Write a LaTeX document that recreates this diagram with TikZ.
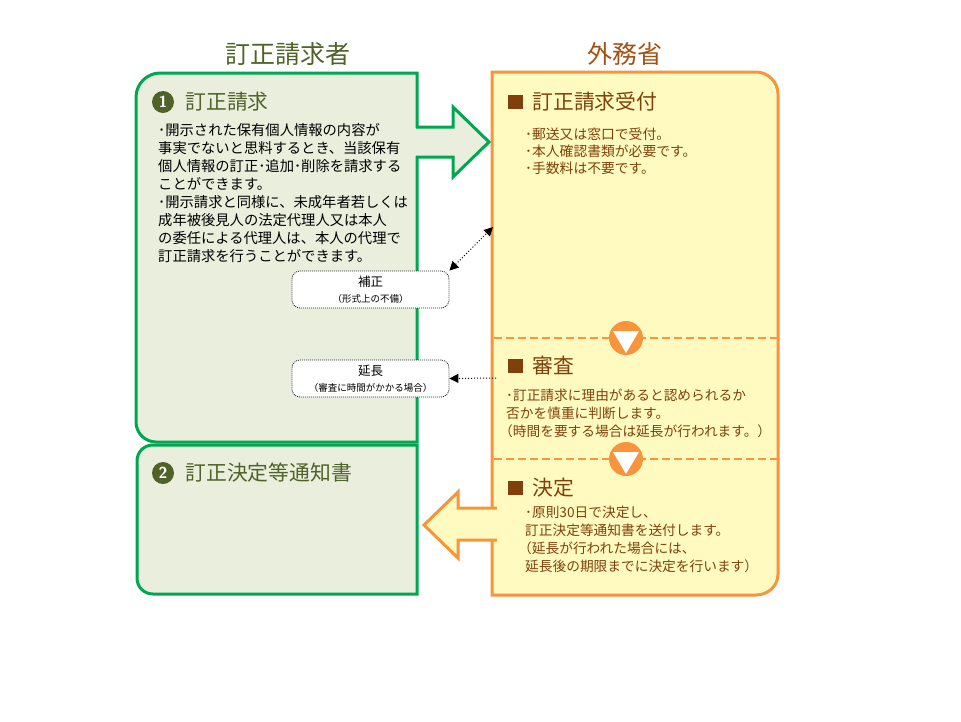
\documentclass[tikz,border=0pt]{standalone}
\usepackage{fontspec}
\setmainfont{Noto Sans CJK JP}
\usetikzlibrary{arrows.meta,positioning}

\definecolor{gline}{RGB}{0,166,81}
\definecolor{gfill}{RGB}{233,238,221}
\definecolor{gtext}{RGB}{79,98,40}
\definecolor{oline}{RGB}{247,148,60}
\definecolor{ofill}{RGB}{255,251,192}
\definecolor{otext}{RGB}{128,64,12}
\definecolor{otitle}{RGB}{160,82,20}

\begin{document}
\begin{tikzpicture}[x=1pt,y=-1pt,
    titletext/.style={font=\fontsize{25}{30}\selectfont},
    headtext/.style={inner sep=0pt,font=\fontsize{20.8}{24}\selectfont},
    bodytext/.style={anchor=north west,inner sep=0pt,align=left,font=\fontsize{14.3}{18}\selectfont},
    numcirc/.style={circle,fill=gtext,text=white,minimum size=22pt,inner sep=0pt,font=\sffamily\bfseries\fontsize{16}{16}\selectfont},
    sqbox/.style={fill=otext,minimum width=15pt,minimum height=14pt,inner sep=0pt},
    notebox/.style={draw=black!85,line width=0.8pt,dash pattern=on 1pt off 1pt,rounded corners=8pt,fill=white,
                    minimum width=157pt,minimum height=37pt,inner sep=0pt,align=center,
                    font=\fontsize{12.5}{16}\selectfont},
    passmark/.style={circle,fill=oline,minimum size=34pt,inner sep=0pt},
    tip/.style={-{Triangle[length=9pt,width=9pt]}},
    tips/.style={{Triangle[length=9pt,width=9pt]}-{Triangle[length=9pt,width=9pt]}}]
    \useasboundingbox (0,0) rectangle (961,721);

    % the two sides
    \draw[gline,line width=3pt,fill=gfill] (417,73) -- (160,73) .. controls (147,73) and (136,84) .. (136,97)
        -- (136,422) .. controls (136,433) and (145,442) .. (156,442) -- (417,442) -- cycle;
    \draw[gline,line width=3pt,fill=gfill] (417,445) -- (153,445) .. controls (144,445) and (137,452) .. (137,461)
        -- (137,578) .. controls (137,587) and (144,594) .. (153,594) -- (417,594) -- cycle;
    \draw[oline,line width=3pt,fill=ofill] (492,72) -- (756,72) .. controls (768,72) and (778,82) .. (778,94)
        -- (778,574) .. controls (778,586) and (768,595) .. (756,595) -- (492,595) -- cycle;

    % big arrows
    \fill[gfill] (414,128) -- (453,128) -- (453,107) -- (489,142) -- (453,177) -- (453,156) -- (414,156) -- cycle;
    \draw[gline,line width=3pt] (416,127) -- (453,127) -- (453,107) -- (489,142) -- (453,177) -- (453,157) -- (416,157);
    \fill[ofill] (424,525) -- (458,492) -- (458,509) -- (496,509) -- (496,539) -- (458,539) -- (458,558) -- cycle;
    \draw[oline,line width=3pt] (497,508) -- (458,508) -- (458,492) -- (424,525) -- (458,558) -- (458,540) -- (497,540);

    % steps
    \draw[oline,line width=2pt,dash pattern=on 8pt off 4pt] (494,338) -- (777,338);
    \node[passmark] (p1) at (626,338) {};
    \fill[white] ([shift={(-13,-7)}]p1.center) -- ([shift={(13,-7)}]p1.center) -- ([shift={(0,15)}]p1.center) -- cycle;
    \draw[oline,line width=2pt,dash pattern=on 8pt off 4pt] (494,459) -- (777,459);
    \node[passmark] (p2) at (626,459) {};
    \fill[white] ([shift={(-13,-7)}]p2.center) -- ([shift={(13,-7)}]p2.center) -- ([shift={(0,15)}]p2.center) -- cycle;

    % titles
    \node[titletext,text=gtext]  (req)  at (288,54) {訂正請求者};
    \node[titletext,text=otitle] (mofa) at (625,54) {外務省};

    % requester
    \node[numcirc] (n1) at (163,102) {1};
    \node[headtext,text=gtext] (h1) [right=11pt of n1] {訂正請求};
    \node[bodytext] (b1) at (158,123.5) {･開示された保有個人情報の内容が\\
        事実でないと思料するとき、当該保有\\
        個人情報の訂正･追加･削除を請求する\\
        ことができます。\\
        ･開示請求と同様に、未成年者若しくは\\
        成年被後見人の法定代理人又は本人\\
        の委任による代理人は、本人の代理で\\
        訂正請求を行うことができます。};
    \node[numcirc] (n2) at (163,473) {2};
    \node[headtext,text=gtext] (h2) [right=11pt of n2] {訂正決定等通知書};

    % ministry
    \node[sqbox] (s1) at (515.5,102) {};
    \node[headtext,text=otext] (h3) [right=9pt of s1] {訂正請求受付};
    \node[bodytext,text=otext,font=\fontsize{13.8}{17}\selectfont] (b3) at (525,127.5) {･郵送又は窓口で受付。\\
        ･本人確認書類が必要です。\\
        ･手数料は不要です。};
    \node[sqbox] (s2) at (515.5,366) {};
    \node[headtext,text=otext] (h4) [right=9pt of s2] {審査};
    \node[bodytext,text=otext,font=\fontsize{13.7}{18}\selectfont] (b4) at (506,389) {･訂正請求に理由があると認められるか\\
        否かを慎重に判断します。\\
        \hspace*{-7pt}（時間を要する場合は延長が行われます。）};
    \node[sqbox] (s3) at (515.5,488) {};
    \node[headtext,text=otext] (h5) [right=9pt of s3] {決定};
    \node[bodytext,text=otext,font=\fontsize{13.7}{18}\selectfont] (b5) at (525,506) {･原則30日で決定し、\\
        訂正決定等通知書を送付します。\\
        \hspace*{-7pt}（延長が行われた場合には、\\
        延長後の期限までに決定を行います）};

    % side notes
    \node[notebox] (hosei) at (370.5,289.5) {補正\\{\fontsize{9.5}{10}\selectfont（形式上の不備）}};
    \node[notebox] (encho) at (370.5,378.5) {延長\\{\fontsize{9.5}{10}\selectfont（審査に時間がかかる場合）}};
    \coordinate (rq) at (493,227);
    \coordinate (ry) at (496,378);
    \draw[dotted,line width=1pt,tips] (hosei.north east) -- (rq);
    \draw[dotted,line width=1pt,tip] (ry) -- (encho.east);
\end{tikzpicture}
\end{document}
